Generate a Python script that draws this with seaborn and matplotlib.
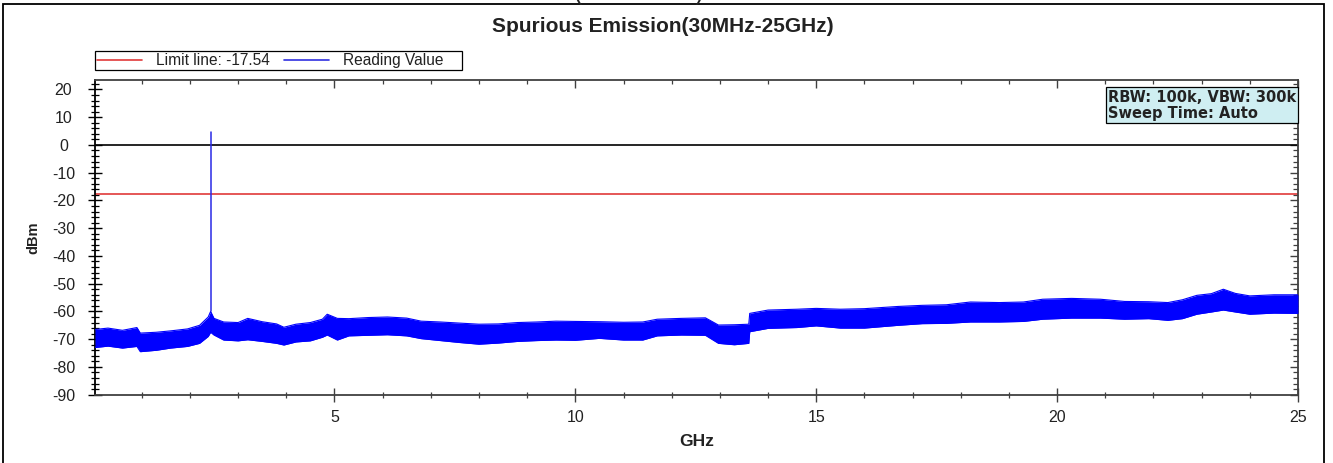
import numpy as np
import pandas as pd
import matplotlib
matplotlib.use("Agg")
import matplotlib.pyplot as plt
from matplotlib.lines import Line2D
from matplotlib.patches import Rectangle
from matplotlib.ticker import MultipleLocator, NullFormatter
import seaborn as sns

# ---------------- data ----------------
title = "Spurious Emission(30MHz-25GHz)"
limit_value = -17.54
limit_label = "Limit line: -17.54"
reading_label = "Reading Value"
info_text = "RBW: 100k, VBW: 300k\nSweep Time: Auto"

# noise-band envelope of the sweep (GHz, dBm upper, dBm lower)
band_freq = [0.03, 0.3, 0.6, 0.9, 0.97, 1.3, 1.6, 1.95, 2.2, 2.38, 2.43, 2.5,
             2.7, 3.0, 3.2, 3.5, 3.8, 3.95, 4.2, 4.5, 4.75, 4.85, 5.06, 5.3,
             5.7, 6.1, 6.5, 6.8, 7.2, 7.6, 8.0, 8.4, 8.8, 9.2, 9.6, 10.0,
             10.5, 11.0, 11.4, 11.7, 12.2, 12.7, 12.97, 13.3, 13.6, 13.62,
             14.0, 14.6, 15.0, 15.5, 16.0, 16.7, 17.2, 17.7, 18.2, 18.8,
             19.3, 19.7, 20.3, 20.9, 21.4, 21.9, 22.3, 22.6, 22.9, 23.2,
             23.45, 23.7, 24.0, 24.5, 25.0]
band_upper = [-66.5, -66.0, -66.8, -65.8, -67.8, -67.5, -67.0, -66.3, -65.0,
              -62.0, -60.0, -62.5, -63.8, -64.0, -62.5, -63.7, -64.5, -65.7,
              -64.6, -64.0, -62.8, -61.0, -62.5, -62.6, -62.2, -62.0, -62.4,
              -63.5, -63.8, -64.2, -64.6, -64.5, -64.0, -63.8, -63.5, -63.6,
              -63.7, -63.9, -63.8, -62.8, -62.5, -62.3, -64.9, -64.8, -64.6,
              -60.7, -59.5, -59.2, -58.9, -59.2, -59.0, -58.2, -57.8, -57.6,
              -56.6, -56.8, -56.6, -55.6, -55.3, -55.6, -56.4, -56.5, -56.8,
              -55.8, -54.2, -53.6, -52.0, -53.5, -54.4, -54.0, -54.0]
band_lower = [-73.0, -72.5, -73.2, -72.6, -74.5, -74.0, -73.2, -72.6, -71.5,
              -69.0, -67.5, -68.5, -70.3, -70.6, -70.2, -70.8, -71.5, -72.1,
              -71.0, -70.6, -69.3, -68.5, -70.3, -68.8, -68.6, -68.4, -68.8,
              -69.8, -70.5, -71.2, -71.8, -71.4, -70.8, -70.5, -70.3, -70.4,
              -69.7, -70.3, -70.3, -68.8, -68.5, -68.6, -71.5, -72.0, -71.5,
              -67.3, -66.1, -65.8, -65.2, -66.0, -66.0, -65.0, -64.4, -64.3,
              -63.8, -63.8, -63.6, -62.8, -62.4, -62.4, -62.8, -62.6, -63.2,
              -62.6, -61.0, -60.2, -59.5, -60.2, -61.0, -60.6, -60.7]

# carrier spike
spike_freq = [2.43, 2.43]
spike_level = [-60.0, 4.6]

x_major = [5, 10, 15, 20, 25]
y_major = [20, 10, 0, -10, -20, -30, -40, -50, -60, -70, -80, -90]

df = pd.DataFrame({"GHz": band_freq, "upper": band_upper, "lower": band_lower})
spike = pd.DataFrame({"GHz": spike_freq, "dBm": spike_level})

# ---------------- figure ----------------
sns.set_theme(style="white")
plt.rcParams["font.family"] = ["Liberation Sans", "DejaVu Sans"]

W, H = 1333, 463
fig = plt.figure(figsize=(W / 100, H / 100), dpi=100)
fig.patch.set_facecolor("white")
ax_l, ax_r, ax_t, ax_b = 95, 1298, 80, 394.7
ax = fig.add_axes([ax_l / W, 1 - ax_b / H, (ax_r - ax_l) / W, (ax_b - ax_t) / H])
ax.set_facecolor("white")

blue = "#0000ff"
red = "#e03a3a"

ax.fill_between(df["GHz"], df["lower"], df["upper"], color=blue, linewidth=0, zorder=3)
sns.lineplot(data=df, x="GHz", y="upper", ax=ax, color=blue, linewidth=0.8, zorder=3)
sns.lineplot(data=df, x="GHz", y="lower", ax=ax, color=blue, linewidth=0.8, zorder=3)
sns.lineplot(data=spike, x="GHz", y="dBm", ax=ax, color="#2a2ae6", linewidth=1.1,
             estimator=None, sort=False, zorder=4)

ax.axhline(0, color="black", linewidth=1.2, zorder=2)
ax.axhline(limit_value, color=red, linewidth=1.2, zorder=2)

ax.set_xlim(0.03, 25)
ax.set_ylim(-90, 23.4)

ax.xaxis.set_minor_locator(MultipleLocator(1))
ax.yaxis.set_minor_locator(MultipleLocator(2))
ax.set_xticks(x_major)
ax.set_xticklabels([str(v) for v in x_major])
ax.set_yticks(y_major)
ax.set_yticklabels([str(v) for v in y_major])

spine_c = "#404040"
for s in ax.spines.values():
    s.set_color(spine_c)
    s.set_linewidth(1.3)
ax.spines["left"].set_color("black")

ax.tick_params(axis="y", which="major", direction="inout", length=9.5, width=1.0,
               color="black", labelsize=11.5, pad=18, left=True, right=False,
               labelcolor="#222222")
ax.tick_params(axis="y", which="minor", direction="inout", length=6.2, width=0.9,
               color="black", left=True, right=False)
ax.tick_params(axis="x", which="major", direction="inout", length=9.5, width=1.0,
               color=spine_c, labelsize=11.5, pad=6, bottom=True, top=False,
               labelcolor="#222222")
ax.tick_params(axis="x", which="minor", direction="inout", length=4.5, width=0.9,
               color=spine_c, bottom=True, top=False)
for lab in ax.get_yticklabels():
    lab.set_horizontalalignment("center")

# inward ticks on top and right edges
sec_x = ax.secondary_xaxis("top")
sec_x.set_xticks(x_major)
sec_x.xaxis.set_minor_locator(MultipleLocator(1))
sec_x.xaxis.set_major_formatter(NullFormatter())
sec_x.tick_params(which="major", direction="in", length=6, width=1.0, color=spine_c)
sec_x.tick_params(which="minor", direction="in", length=3, width=0.9, color=spine_c)
sec_x.spines["top"].set_visible(False)
sec_y = ax.secondary_yaxis("right")
sec_y.set_yticks(y_major)
sec_y.yaxis.set_minor_locator(MultipleLocator(2))
sec_y.yaxis.set_major_formatter(NullFormatter())
sec_y.tick_params(which="major", direction="in", length=6, width=1.0, color=spine_c)
sec_y.tick_params(which="minor", direction="in", length=3.5, width=0.9, color=spine_c)
sec_y.spines["right"].set_visible(False)

ax.set_xlabel("GHz", fontsize=12.5, fontweight="bold", color="#222222")
ax.set_ylabel("dBm", fontsize=10.5, fontweight="bold", color="#222222")
ax.xaxis.set_label_coords(0.5, -(442 - ax_b) / (ax_b - ax_t))
ax.xaxis.label.set_verticalalignment("center")
ax.yaxis.set_label_coords(-(ax_l - 33) / (ax_r - ax_l), 0.5)
ax.yaxis.label.set_verticalalignment("center")

# info box
ax.text(0.9985, 1 - 9.5 / (ax_b - ax_t), info_text, transform=ax.transAxes,
        ha="right", va="top", multialignment="left", fontsize=10.5,
        fontweight="bold", family="DejaVu Sans", color="#222222", linespacing=1.15,
        bbox=dict(boxstyle="square,pad=0.15", facecolor="#cfeef2",
                  edgecolor="black", linewidth=0.9), zorder=6)

# title
fig.text(663 / W, 1 - 27 / H, title, ha="center", va="center",
         fontsize=15, fontweight="bold", color="#222222")
# header text above the frame, cut off by the page edge as in the reference
fig.text(639 / W, 1.0, "(Continued)", ha="center", va="baseline",
         fontsize=18, color="#222222")

# legend
handles = [Line2D([], [], color=red, linewidth=1.2),
           Line2D([], [], color="#3030e0", linewidth=1.2)]
leg = fig.legend(handles, [limit_label, reading_label + "    "],
                 loc="lower left", bbox_to_anchor=(95 / W, 1 - 69.5 / H),
                 ncol=2, frameon=True, fancybox=False, edgecolor="black",
                 framealpha=1, fontsize=11.2, borderpad=0.1, handlelength=2.9,
                 handletextpad=0.9, columnspacing=0.9, borderaxespad=0)
leg.get_frame().set_linewidth(0.9)
for t in leg.get_texts():
    t.set_color("#222222")

# outer frame
fig.patches.append(Rectangle((3 / W, -0.05), (1324 - 3) / W, 1 - 4 / H + 0.05,
                             transform=fig.transFigure, fill=False,
                             edgecolor="black", linewidth=1.3))

fig.savefig("out.png", dpi=100)
